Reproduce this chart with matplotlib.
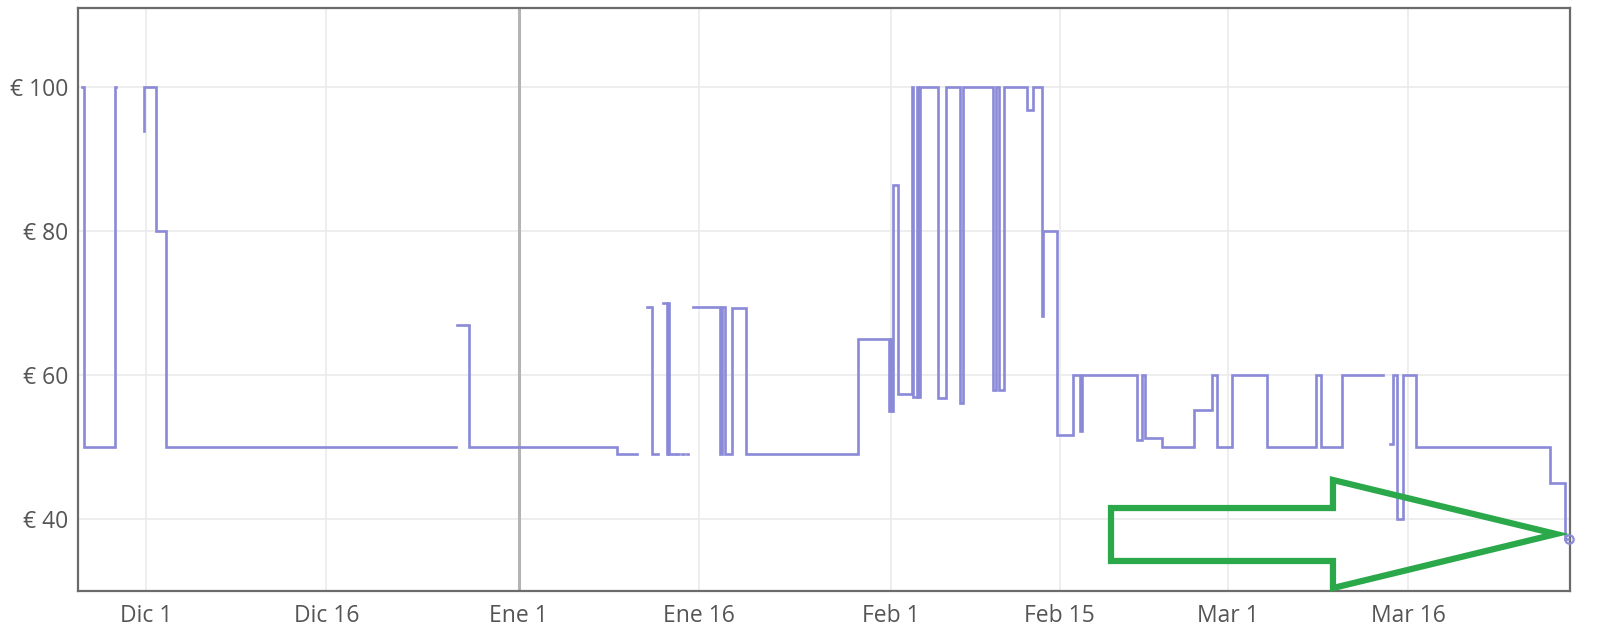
import matplotlib
matplotlib.use("Agg")
import matplotlib.pyplot as plt
from matplotlib.patches import Polygon
from datetime import datetime, timedelta

nan = float("nan")

# ---- data (days measured from Dic 1, fractional) ----
BASE = datetime(2022, 12, 1)

days = [
    -5.35, -5.16, -2.58, -2.52,
    -0.17, -0.15, 0.83, 1.66, 25.79,
    25.90, 26.90, 39.16, 40.82,
    41.66, 42.07, 42.62,
    43.01, 43.34, 43.45, 43.55, 44.01,
    44.20, 44.32, 44.60, 44.72, 45.00, 45.12,
    45.53, 47.75, 47.95, 48.17, 48.73, 49.88, 59.26,
    61.84, 61.95, 62.05, 62.15, 62.58, 63.70, 63.84, 64.12, 64.25, 64.39,
    65.92, 66.56, 67.72, 67.95,
    70.49, 70.70, 70.95, 71.20, 71.38,
    73.27, 73.82, 74.52, 74.65, 75.77, 77.15, 77.70, 77.84,
    82.42, 82.84, 83.11, 84.50, 87.19, 88.66, 89.08, 90.32, 93.23,
    97.34, 97.73, 99.48, 102.94,
    103.49, 103.77, 104.05, 104.60, 105.66, 116.81, 118.06, 118.41,
]
price = [
    100, 50, 100, nan,
    94, 100, 80, 50, nan,
    67, 50, 49, nan,
    69.5, 49, nan,
    70, 49, 70, 49, nan,
    49, nan, 49, nan, 49, nan,
    69.5, 49, 69.5, 49, 69.3, 49, 65,
    55, 65, 55, 86.4, 57.4, 100, 57, 100, 57, 100,
    56.8, 100, 56.2, 100,
    58, 100, 58, 58, 100,
    96.8, 100, 68.2, 80, 51.7, 60, 52.3, 60,
    51, 60, 51.2, 50, 55.2, 60, 50, 60, 50,
    60, 50, 60, nan,
    50.5, 60, 40, 60, 50, 45, 37.2, 37.2,
]

tick_days = [0, 15, 31, 46, 62, 76, 90, 105]
tick_labels = ["Dic 1", "Dic 16", "Ene 1", "Ene 16", "Feb 1", "Feb 15", "Mar 1", "Mar 16"]
y_ticks = [40, 60, 80, 100]
y_labels = ["€ 40", "€ 60", "€ 80", "€ 100"]
x_range_days = (-5.63, 118.47)
y_range = (30, 111)
year_mark_day = 31

# arrow annotation outline (axes fraction)
arrow_x = [0.6923, 0.8411, 0.8411, 0.9906, 0.8411, 0.8411, 0.6923]
arrow_y = [0.1424, 0.1424, 0.1905, 0.0978, 0.0051, 0.0515, 0.0515]

to_date = lambda d: BASE + timedelta(days=d)
dates = [to_date(d) for d in days]

LINE = "#8a8ad9"

plt.rcParams["font.family"] = ["Open Sans", "DejaVu Sans"]
fig = plt.figure(figsize=(16, 6.4), dpi=100)
ax = fig.add_axes([0.04894, 0.07656, 0.93231, 0.91047])

ax.plot(dates, price, drawstyle="steps-post", color=LINE, lw=1.9,
        solid_joinstyle="miter", zorder=3)
ax.plot([dates[-1]], [price[-1]], "o", ms=6, mfc="none", mec=LINE, mew=1.6,
        zorder=4, clip_on=False)

ax.axvline(to_date(year_mark_day), color="#b4b4b4", lw=2.2, zorder=2)

ax.set_xlim(to_date(x_range_days[0]), to_date(x_range_days[1]))
ax.set_ylim(*y_range)
ax.set_xticks([to_date(d) for d in tick_days])
ax.set_xticklabels(tick_labels)
ax.set_yticks(y_ticks)
ax.set_yticklabels(y_labels)

ax.grid(True, color="#ebebeb", lw=1.2, zorder=0)
ax.set_axisbelow(True)
for s in ax.spines.values():
    s.set_color("#6b6b6b")
    s.set_linewidth(1.6)
ax.tick_params(length=0, labelcolor="#555555", labelsize=16.5)
ax.tick_params(axis="y", pad=7)
ax.tick_params(axis="x", pad=9)

poly = Polygon(list(zip(arrow_x, arrow_y)), closed=True, fill=False,
               edgecolor="#2aa84a", lw=4.5, joinstyle="miter",
               transform=ax.transAxes, clip_on=False, zorder=5)
ax.add_patch(poly)

fig.savefig("out.png", dpi=100, facecolor="white")
